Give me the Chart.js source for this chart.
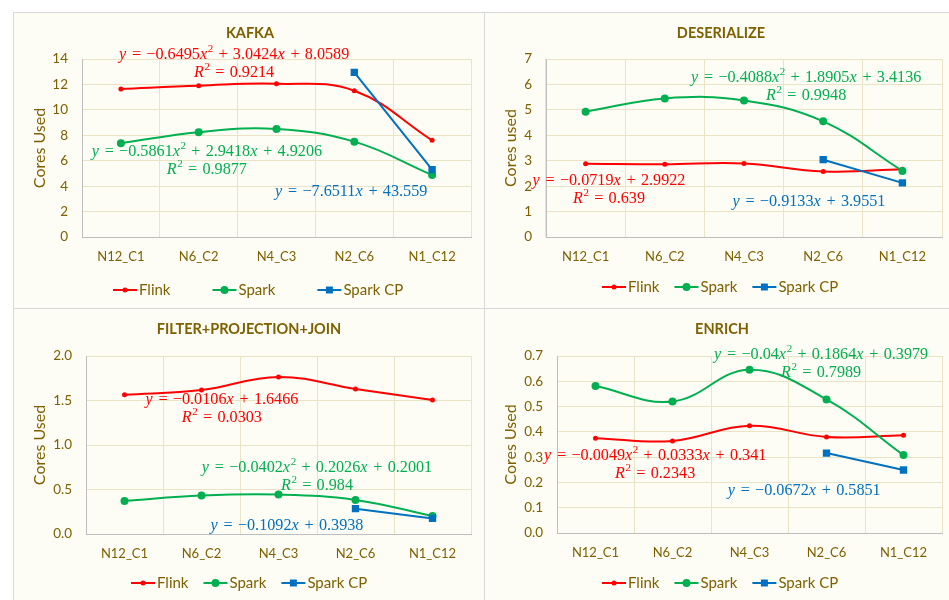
<!DOCTYPE html>
<html>
<head>
<meta charset="utf-8">
<script src="https://cdn.jsdelivr.net/npm/chart.js@4.4.0/dist/chart.umd.min.js"></script>
<style>
  html, body { margin: 0; padding: 0; background: #ffffff; width: 949px; height: 600px; overflow: hidden; }
  .panel { position: absolute; box-sizing: border-box; border-left: 1px solid #d9d9d9; border-top: 1px solid #d9d9d9; background: #fefdf5; }
  .panel canvas { position: absolute; left: 0; top: 0; }
</style>
</head>
<body>
<div class="panel" style="left:13px;top:12px;width:471px;height:296px"><canvas id="kafka" width="470" height="295"></canvas></div>
<div class="panel" style="left:484px;top:12px;width:470px;height:296px"><canvas id="deser" width="464" height="295"></canvas></div>
<div class="panel" style="left:13px;top:308px;width:471px;height:296px"><canvas id="filter" width="470" height="291"></canvas></div>
<div class="panel" style="left:484px;top:308px;width:470px;height:296px"><canvas id="enrich" width="464" height="291"></canvas></div>
<script>
// Deployment layouts (nodes x cores per node)
const categories = ['N12_C1', 'N6_C2', 'N4_C3', 'N2_C6', 'N1_C12'];
const seriesNames = ['Flink', 'Spark', 'Spark CP'];

// KAFKA
const kafkaFlink   = [11.65, 11.9, 12.05, 11.5, 7.6];
const kafkaSpark   = [7.37, 8.24, 8.5, 7.5, 4.88];
const kafkaSparkCP = [null, null, null, 12.95, 5.3];
const kafkaFits = [
  ['y = −0.6495x² + 3.0424x + 8.0589', 'R² = 0.9214'],
  ['y = −0.5861x² + 2.9418x + 4.9206', 'R² = 0.9877'],
  ['y = −7.6511x + 43.559']
];

// DESERIALIZE
const deserFlink   = [2.88, 2.86, 2.89, 2.58, 2.66];
const deserSpark   = [4.93, 5.45, 5.37, 4.55, 2.6];
const deserSparkCP = [null, null, null, 3.04, 2.13];
const deserFits = [
  ['y = −0.0719x + 2.9922', 'R² = 0.639'],
  ['y = −0.4088x² + 1.8905x + 3.4136', 'R² = 0.9948'],
  ['y = −0.9133x + 3.9551']
];

// FILTER+PROJECTION+JOIN
const filterFlink   = [1.565, 1.618, 1.765, 1.63, 1.505];
const filterSpark   = [0.372, 0.432, 0.443, 0.383, 0.203];
const filterSparkCP = [null, null, null, 0.285, 0.175];
const filterFits = [
  ['y = −0.0106x + 1.6466', 'R² = 0.0303'],
  ['y = −0.0402x² + 0.2026x + 0.2001', 'R² = 0.984'],
  ['y = −0.1092x + 0.3938']
];

// ENRICH
const enrichFlink   = [0.375, 0.364, 0.424, 0.38, 0.387];
const enrichSpark   = [0.581, 0.52, 0.646, 0.528, 0.308];
const enrichSparkCP = [null, null, null, 0.316, 0.249];
const enrichFits = [
  ['y = −0.0049x² + 0.0333x + 0.341', 'R² = 0.2343'],
  ['y = −0.04x² + 0.1864x + 0.3979', 'R² = 0.7989'],
  ['y = −0.0672x + 0.5851']
];

// y axis ranges: [min, max, step]
const kafkaAxis  = [0, 14, 2];
const deserAxis  = [0, 7, 1];
const filterAxis = [0, 2, 0.5];
const enrichAxis = [0, 0.7, 0.1];

const TEXT = '#7f6000';
const GRID = '#ebe4c4';
const AXIS = '#bfbfbf';
const SANS = 'Lato, "Open Sans", sans-serif';
const SERIES_STYLE = [
  { color: '#ff0000', point: 'circle', radius: 2.5, tension: 0.4, order: 2 },
  { color: '#00b050', point: 'circle', radius: 4,   tension: 0.4, order: 1 },
  { color: '#0070c0', point: 'rect',   radius: 5.2, tension: 0,   order: 0 }
];

// Trendline equation text: letters italic, "²" as a raised small 2,
// spaces slightly widened like math typesetting
function drawFormula(ctx, str, cx, cy, color, size) {
  const runs = [];
  for (const ch of str) {
    const kind = /[A-Za-z]/.test(ch) ? 'it' : (ch === '²' ? 'sup' : (ch === ' ' ? 'sp' : 'rm'));
    const last = runs[runs.length - 1];
    if (last && last.kind === kind && kind === 'rm') last.t += ch;
    else runs.push({ kind, t: kind === 'sup' ? '2' : ch });
  }
  const fam = '"Liberation Serif", "DejaVu Serif", serif';
  const fontFor = k => k === 'it' ? `italic ${size}px ${fam}` : k === 'sup' ? `${Math.round(size * 0.7)}px ${fam}` : `${size}px ${fam}`;
  let total = 0;
  runs.forEach(r => {
    ctx.font = fontFor(r.kind);
    r.w = ctx.measureText(r.t).width + (r.kind === 'sp' ? 1.2 : 0) + (r.kind === 'it' ? 0.6 : 0);
    total += r.w;
  });
  let x = cx - total / 2;
  ctx.fillStyle = color;
  ctx.textAlign = 'left';
  ctx.textBaseline = 'middle';
  runs.forEach(r => {
    ctx.font = fontFor(r.kind);
    if (r.kind !== 'sp') ctx.fillText(r.t, x, r.kind === 'sup' ? cy - size * 0.34 : cy);
    x += r.w;
  });
}

function drawMarker(ctx, style, x, y, r, color) {
  ctx.fillStyle = color;
  ctx.beginPath();
  if (style === 'rect') {
    const s = r * Math.SQRT1_2;
    ctx.rect(x - s, y - s, 2 * s, 2 * s);
  } else {
    ctx.arc(x, y, r, 0, Math.PI * 2);
  }
  ctx.fill();
}

// Chart title, legend and trendline equations
const decorations = {
  id: 'decorations',
  afterDraw(chart, args, o) {
    const ctx = chart.ctx;
    const a = chart.chartArea;
    ctx.save();
    // title
    ctx.font = 'bold 14.5px ' + SANS;
    ctx.fillStyle = TEXT;
    ctx.textAlign = 'center';
    ctx.textBaseline = 'middle';
    ctx.fillText(o.title, o.titleX, o.titleY);
    // trendline equations
    o.fits.forEach((lines, i) => {
      const p = o.fitPos[i];
      const cx = a.left + p[0] * (a.right - a.left);
      const cy = a.top + p[1] * (a.bottom - a.top);
      lines.forEach((ln, j) => drawFormula(ctx, ln, cx, cy + j * 17.5, o.fitColors[i], 16.2));
    });
    // legend
    let x = o.legendX;
    const y = o.legendY;
    chart.data.datasets.forEach((ds, i) => {
      const st = SERIES_STYLE[i];
      ctx.strokeStyle = st.color;
      ctx.lineWidth = 2;
      ctx.beginPath();
      ctx.moveTo(x, y);
      ctx.lineTo(x + 24, y);
      ctx.stroke();
      drawMarker(ctx, st.point, x + 12, y, st.radius * (st.point === 'rect' ? 0.95 : 1), st.color);
      ctx.font = '15px ' + SANS;
      ctx.fillStyle = TEXT;
      ctx.textAlign = 'left';
      ctx.textBaseline = 'middle';
      ctx.fillText(ds.label, x + 26, y + 0.5);
      x += 26 + ctx.measureText(ds.label).width + o.legendGap;
    });
    ctx.restore();
  }
};

function makeChart(id, series, axis, yTitle, box, deco) {
  const [yMin, yMax, yStep] = axis;
  const decimals = yStep < 1 ? 1 : 0;
  return new Chart(document.getElementById(id), {
    type: 'line',
    data: {
      labels: categories,
      datasets: series.map((vals, i) => ({
        label: seriesNames[i],
        data: vals,
        borderColor: SERIES_STYLE[i].color,
        backgroundColor: SERIES_STYLE[i].color,
        pointBackgroundColor: SERIES_STYLE[i].color,
        pointBorderColor: SERIES_STYLE[i].color,
        pointStyle: SERIES_STYLE[i].point,
        pointRadius: SERIES_STYLE[i].radius,
        pointBorderWidth: 0,
        borderWidth: 2,
        tension: SERIES_STYLE[i].tension,
        order: SERIES_STYLE[i].order,
        fill: false
      }))
    },
    options: {
      responsive: false,
      animation: false,
      layout: { padding: { left: 0, top: box.top, right: box.right, bottom: box.bottom } },
      plugins: {
        legend: { display: false },
        title: { display: false },
        tooltip: { enabled: false },
        decorations: deco
      },
      scales: {
        x: {
          offset: true,
          grid: { color: GRID, lineWidth: 1, drawTicks: false, offset: true },
          border: { color: AXIS, width: 1 },
          ticks: { color: TEXT, padding: 12, font: { family: SANS, size: 13, lineHeight: 1.2 }, maxRotation: 0 },
          afterFit: s => { s.height = 30; }
        },
        y: {
          min: yMin,
          max: yMax,
          grid: { color: GRID, lineWidth: 1, drawTicks: false },
          border: { color: AXIS, width: 1 },
          ticks: {
            stepSize: yStep,
            color: TEXT,
            padding: 14,
            font: { family: SANS, size: 13.5, lineHeight: 1.2 },
            callback: v => Number(v).toFixed(decimals)
          },
          title: {
            display: true,
            text: yTitle,
            color: TEXT,
            font: { family: SANS, size: 16, lineHeight: 1.2 },
            padding: { top: 16, bottom: 0 }
          },
          afterFit: s => { s.width = box.left; }
        }
      }
    },
    plugins: [decorations]
  });
}

const FIT_COLORS = ['#ff0000', '#00b050', '#0070c0'];

makeChart('kafka', [kafkaFlink, kafkaSpark, kafkaSparkCP], kafkaAxis, 'Cores Used',
  { left: 68, top: 46, right: 13, bottom: 41 },
  { title: 'KAFKA', titleX: 236, titleY: 20, fits: kafkaFits, fitColors: FIT_COLORS,
    fitPos: [[0.391, -0.022], [0.321, 0.522], [0.692, 0.747]],
    legendX: 99, legendY: 277, legendGap: 42 });

makeChart('deser', [deserFlink, deserSpark, deserSparkCP], deserAxis, 'Cores used',
  { left: 61, top: 46, right: 7, bottom: 41 },
  { title: 'DESERIALIZE', titleX: 236, titleY: 20, fits: deserFits, fitColors: FIT_COLORS,
    fitPos: [[0.159, 0.685], [0.657, 0.107], [0.664, 0.803]],
    legendX: 117, legendY: 274, legendGap: 15 });

makeChart('filter', [filterFlink, filterSpark, filterSparkCP], filterAxis, 'Cores Used',
  { left: 72, top: 47, right: 13, bottom: 36 },
  { title: 'FILTER+PROJECTION+JOIN', titleX: 235, titleY: 20, fits: filterFits, fitColors: FIT_COLORS,
    fitPos: [[0.353, 0.247], [0.6, 0.629], [0.522, 0.955]],
    legendX: 117, legendY: 274, legendGap: 15 });

makeChart('enrich', [enrichFlink, enrichSpark, enrichSparkCP], enrichAxis, 'Cores Used',
  { left: 72, top: 47, right: 7, bottom: 37 },
  { title: 'ENRICH', titleX: 237, titleY: 20, fits: enrichFits, fitColors: FIT_COLORS,
    fitPos: [[0.255, 0.565], [0.686, -0.006], [0.642, 0.763]],
    legendX: 117, legendY: 274, legendGap: 15 });
</script>
</body>
</html>
